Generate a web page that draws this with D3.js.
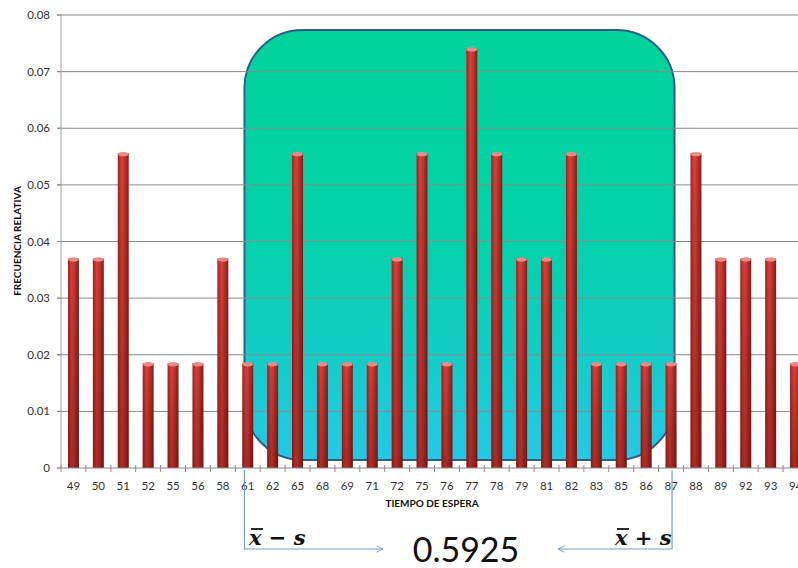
<!DOCTYPE html>
<html>
<head>
<meta charset="utf-8">
<script src="https://cdn.jsdelivr.net/npm/d3@7"></script>
<style>
  body { margin: 0; background: #fff; }
  svg { display: block; }
</style>
</head>
<body>
<div id="chart"></div>
<script>
// categories (tiempo de espera) and relative frequencies
let categories = ["49","50","51","52","55","56","58","61","62","65","68","69","71","72","75","76","77","78","79","81","82","83","85","86","87","88","89","92","93","94"];
let frecuencias = [0.037,0.037,0.0556,0.0185,0.0185,0.0185,0.037,0.0185,0.0185,0.0556,0.0185,0.0185,0.0185,0.037,0.0556,0.0185,0.0741,0.0556,0.037,0.037,0.0556,0.0185,0.0185,0.0185,0.0185,0.0556,0.037,0.037,0.037,0.0185];
let yTicks = [0,0.01,0.02,0.03,0.04,0.05,0.06,0.07,0.08];
let rangeStart = "61", rangeEnd = "87";
let resultado = "0.5925";

let W = 798, H = 568;
let x = d3.scaleBand().domain(categories).range([61, 61 + 30 * 24.9]).paddingInner(0.56).paddingOuter(0.28);
let y = d3.scaleLinear().domain([0, 0.08]).range([468, 15]);

let svg = d3.select("#chart").append("svg")
   .attr("width", W).attr("height", H);

let defs = svg.append("defs");
let bg = defs.append("linearGradient").attr("id", "boxGrad")
   .attr("x1", 0).attr("y1", 0).attr("x2", 0).attr("y2", 1);
bg.append("stop").attr("offset", "0%").attr("stop-color", "#00d39c");
bg.append("stop").attr("offset", "50%").attr("stop-color", "#04d1aa");
bg.append("stop").attr("offset", "100%").attr("stop-color", "#24c8e4");

let barGrad = defs.append("linearGradient").attr("id", "barGrad")
   .attr("x1", 0).attr("y1", 0).attr("x2", 1).attr("y2", 0);
barGrad.append("stop").attr("offset", "0%").attr("stop-color", "#9a2520");
barGrad.append("stop").attr("offset", "35%").attr("stop-color", "#dc4039");
barGrad.append("stop").attr("offset", "60%").attr("stop-color", "#c9332d");
barGrad.append("stop").attr("offset", "100%").attr("stop-color", "#861c18");

let shade = defs.append("linearGradient").attr("id", "shade")
   .attr("x1", 0).attr("y1", 0).attr("x2", 0).attr("y2", 1);
shade.append("stop").attr("offset", "0%").attr("stop-color", "#000").attr("stop-opacity", 0);
shade.append("stop").attr("offset", "100%").attr("stop-color", "#400").attr("stop-opacity", 0.3);

let arrow = defs.append("marker").attr("id", "arr")
   .attr("viewBox", "0 0 10 10").attr("refX", 9).attr("refY", 5)
   .attr("markerWidth", 8).attr("markerHeight", 8).attr("orient", "auto-start-reverse")
   .attr("markerUnits", "userSpaceOnUse");
arrow.append("path").attr("d", "M1,1 L9,5 L1,9").attr("fill", "none")
   .attr("stroke", "#7a9cc6").attr("stroke-width", 1.2);

// highlighted region x̄ - s .. x̄ + s
let x0 = x(rangeStart) + x.bandwidth() * 0.2;
let x1 = x(rangeEnd) + x.bandwidth() - 2;
svg.append("rect")
   .attr("x", x0).attr("y", 30)
   .attr("width", x1 - x0).attr("height", 430)
   .attr("rx", 58).attr("ry", 58)
   .attr("fill", "url(#boxGrad)")
   .attr("stroke", "#2f5f86").attr("stroke-width", 2);

// gridlines
svg.append("g").selectAll("line").data(yTicks.slice(1)).enter().append("line")
   .attr("x1", 57).attr("x2", W)
   .attr("y1", d => y(d)).attr("y2", d => y(d))
   .attr("stroke", "#8a8a8a").attr("stroke-width", 1);

// y axis
svg.append("line").attr("x1", 61).attr("x2", 61).attr("y1", y(0.08)).attr("y2", y(0))
   .attr("stroke", "#a0a0a0");
svg.append("g").selectAll("text").data(yTicks).enter().append("text")
   .attr("x", 50).attr("y", d => y(d) + 4)
   .attr("text-anchor", "end")
   .attr("font-family", "Lato, 'Open Sans', sans-serif").attr("font-size", 11.5)
   .attr("fill", "#333")
   .text(d => d === 0 ? "0" : d.toFixed(2));
svg.append("g").selectAll("line").data(yTicks).enter().append("line")
   .attr("x1", 57).attr("x2", 61).attr("y1", d => y(d)).attr("y2", d => y(d))
   .attr("stroke", "#8a8a8a");

// bars
let bars = svg.append("g").selectAll("g").data(categories).enter().append("g");
bars.append("rect")
   .attr("x", d => x(d))
   .attr("y", (d, i) => y(frecuencias[i]))
   .attr("width", x.bandwidth())
   .attr("height", (d, i) => y(0) - y(frecuencias[i]))
   .attr("fill", "url(#barGrad)");
bars.append("rect")
   .attr("x", d => x(d))
   .attr("y", (d, i) => y(frecuencias[i]))
   .attr("width", x.bandwidth())
   .attr("height", (d, i) => y(0) - y(frecuencias[i]))
   .attr("fill", "url(#shade)");
bars.append("ellipse")
   .attr("cx", d => x(d) + x.bandwidth() / 2)
   .attr("cy", (d, i) => y(frecuencias[i]) + 1)
   .attr("rx", x.bandwidth() / 2).attr("ry", 2.2)
   .attr("fill", "#ee8a86");

// x axis
let step = x.step();
svg.append("line").attr("x1", 57).attr("x2", W).attr("y1", y(0)).attr("y2", y(0))
   .attr("stroke", "#8a8a8a");
svg.append("g").selectAll("line").data(d3.range(31)).enter().append("line")
   .attr("x1", i => 61 + i * step).attr("x2", i => 61 + i * step)
   .attr("y1", y(0) - 3).attr("y2", y(0) + 4)
   .attr("stroke", "#8a8a8a");
svg.append("g").selectAll("text").data(categories).enter().append("text")
   .attr("x", d => x(d) + x.bandwidth() / 2)
   .attr("y", 490)
   .attr("text-anchor", "middle")
   .attr("font-family", "Lato, 'Open Sans', sans-serif").attr("font-size", 11.5)
   .attr("fill", "#333")
   .text(d => d);

// axis titles
svg.append("text").attr("x", 432).attr("y", 507).attr("text-anchor", "middle")
   .attr("font-family", "Lato, 'Open Sans', sans-serif").attr("font-size", 10).attr("font-weight", "bold")
   .attr("fill", "#111").text("TIEMPO DE ESPERA");
svg.append("text").attr("transform", "translate(21,241) rotate(-90)").attr("text-anchor", "middle")
   .attr("font-family", "Lato, 'Open Sans', sans-serif").attr("font-size", 10).attr("font-weight", "bold")
   .attr("fill", "#111").text("FRECUENCIA RELATIVA");

// annotation lines
let lx = x(rangeStart) + x.bandwidth() * 0.2;
let rx = x(rangeEnd) + x.bandwidth() / 2 + 1;
svg.append("path")
   .attr("d", `M${lx},470 L${lx},549 L383,549`)
   .attr("fill", "none").attr("stroke", "#7a9cc6").attr("stroke-width", 1.2)
   .attr("marker-end", "url(#arr)");
svg.append("path")
   .attr("d", `M${rx},470 L${rx},549 L558,549`)
   .attr("fill", "none").attr("stroke", "#7a9cc6").attr("stroke-width", 1.2)
   .attr("marker-end", "url(#arr)");

// math labels
function mathLabel(xPos, op) {
   let g = svg.append("g");
   let t = g.append("text").attr("x", xPos).attr("y", 545)
      .attr("font-family", "'DejaVu Serif', 'Liberation Serif', serif")
      .attr("font-size", 21).attr("font-weight", "bold").attr("font-style", "italic")
      .attr("fill", "#111");
   t.append("tspan").text("x");
   t.append("tspan").attr("font-style", "normal").text(op);
   t.append("tspan").text("s");
   g.append("line").attr("x1", xPos + 2).attr("x2", xPos + 14)
      .attr("y1", 529).attr("y2", 529).attr("stroke", "#111").attr("stroke-width", 1.8);
   return t;
}
mathLabel(249, " \u2212 ");
mathLabel(615, " + ");

svg.append("text").attr("x", 466).attr("y", 562).attr("text-anchor", "middle")
   .attr("font-family", "Lato, 'Open Sans', sans-serif").attr("font-size", 34)
   .attr("fill", "#111").text(resultado);
</script>
</body>
</html>
